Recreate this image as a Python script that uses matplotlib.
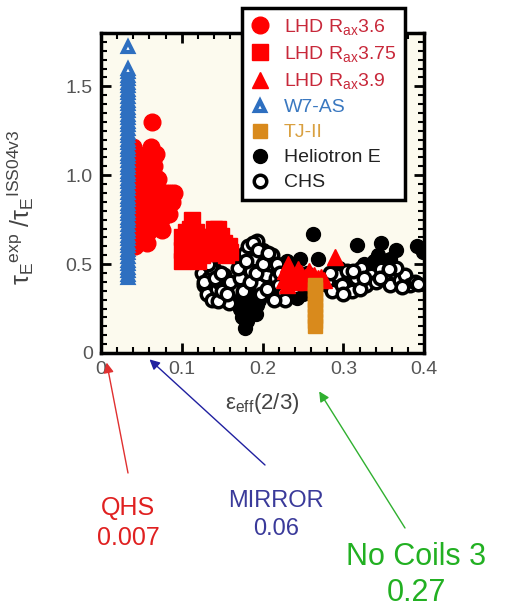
import matplotlib
matplotlib.use("Agg")
import matplotlib.pyplot as plt
from matplotlib.ticker import MultipleLocator

plt.rcParams['font.family'] = ['Liberation Sans', 'DejaVu Sans']
plt.rcParams['mathtext.fontset'] = 'custom'
plt.rcParams['mathtext.rm'] = 'Liberation Sans'
plt.rcParams['mathtext.it'] = 'Liberation Sans:italic'

# LHD, Rax = 3.6 m
lhd36_x = [0.040, 0.042, 0.044, 0.040, 0.046, 0.048, 0.043, 0.050, 0.052, 0.045,
           0.041, 0.047, 0.054, 0.056, 0.058, 0.060, 0.062, 0.063, 0.065, 0.066,
           0.068, 0.070, 0.064, 0.060, 0.055, 0.050, 0.045, 0.042, 0.040, 0.048,
           0.053, 0.057, 0.061, 0.067, 0.072, 0.075, 0.074, 0.078, 0.082, 0.086,
           0.090, 0.084, 0.063, 0.043, 0.065, 0.058, 0.052,
           0.038, 0.038, 0.039, 0.039, 0.040, 0.050, 0.052, 0.055, 0.057, 0.059,
           0.062, 0.064, 0.066, 0.069, 0.071, 0.044, 0.068, 0.073, 0.080, 0.088,
           0.047, 0.051, 0.055, 0.060]
lhd36_y = [1.16, 1.05, 0.98, 0.90, 0.95, 1.02, 0.82, 0.92, 0.88, 0.75,
           0.68, 0.70, 0.80, 0.98, 1.05, 1.10, 1.16, 1.30, 1.10, 1.00,
           0.95, 0.90, 0.85, 0.78, 0.72, 0.65, 0.62, 0.60, 0.78, 0.85,
           0.96, 0.90, 0.72, 0.82, 0.76, 0.69, 0.75, 0.82, 0.86, 0.90,
           0.90, 0.78, 0.95, 1.10, 1.05, 0.68, 1.00,
           0.65, 0.72, 0.85, 0.95, 1.05, 0.70, 0.78, 0.85, 0.62, 0.80,
           0.88, 0.75, 0.92, 0.82, 0.98, 1.12, 1.12, 0.88, 0.90, 0.85,
           0.88, 0.98, 1.05, 0.95]

# LHD, Rax = 3.75 m
lhd375_x = [0.100, 0.100, 0.105, 0.110, 0.110, 0.113, 0.118, 0.120, 0.125, 0.130,
            0.135, 0.140, 0.145, 0.145, 0.150, 0.155, 0.160, 0.120, 0.100, 0.140,
            0.105, 0.108, 0.115, 0.122, 0.128, 0.132, 0.138, 0.142, 0.148, 0.152,
            0.158, 0.115]
lhd375_y = [0.58, 0.65, 0.55, 0.62, 0.70, 0.75, 0.68, 0.58, 0.55, 0.60,
            0.65, 0.70, 0.70, 0.62, 0.58, 0.55, 0.57, 0.52, 0.52, 0.60,
            0.68, 0.58, 0.64, 0.65, 0.62, 0.56, 0.56, 0.66, 0.66, 0.62,
            0.60, 0.55]

# LHD, Rax = 3.9 m
lhd39_x = [0.226, 0.228, 0.232, 0.236, 0.240, 0.244, 0.248, 0.252, 0.258, 0.264,
           0.268, 0.272, 0.276, 0.290, 0.230, 0.255]
lhd39_y = [0.41, 0.46, 0.50, 0.44, 0.40, 0.47, 0.45, 0.43, 0.46, 0.44,
           0.42, 0.43, 0.41, 0.54, 0.38, 0.40]

# W7-AS
w7as_y = [0.42, 0.44, 0.46, 0.48, 0.50, 0.52, 0.54, 0.56, 0.58, 0.60,
          0.62, 0.64, 0.66, 0.68, 0.70, 0.72, 0.74, 0.76, 0.78, 0.80,
          0.82, 0.84, 0.86, 0.88, 0.90, 0.92, 0.94, 0.96, 0.98, 1.00,
          1.02, 1.04, 1.06, 1.08, 1.10, 1.12, 1.14, 1.16, 1.18, 1.20,
          1.22, 1.24, 1.26, 1.28, 1.30, 1.32, 1.34, 1.36, 1.38, 1.40,
          1.42, 1.44, 1.46, 1.48, 1.50, 1.52, 1.54, 1.56, 1.58, 1.60,
          1.72]
w7as_x = [0.033] * len(w7as_y)

# TJ-II
tj2_y = [0.15, 0.18, 0.21, 0.24, 0.27, 0.30, 0.33, 0.36, 0.38]
tj2_x = [0.265] * len(tj2_y)

# Heliotron E
hel_x = [0.130, 0.133, 0.136, 0.139, 0.141, 0.135, 0.132,
         0.172, 0.175, 0.178, 0.180, 0.183, 0.186, 0.188, 0.191, 0.194, 0.197,
         0.200, 0.176, 0.182, 0.190, 0.185, 0.179, 0.195, 0.203, 0.178,
         0.210, 0.215, 0.222, 0.230, 0.238, 0.246, 0.250, 0.255, 0.262, 0.269,
         0.280, 0.288, 0.295, 0.302, 0.310, 0.317, 0.325, 0.332, 0.338, 0.343,
         0.347, 0.352, 0.358, 0.365, 0.391, 0.398, 0.212, 0.243,
         0.174, 0.181, 0.187, 0.193, 0.184, 0.177, 0.189, 0.198, 0.170, 0.192,
         0.128, 0.138, 0.143, 0.335, 0.340, 0.330, 0.348, 0.292, 0.298, 0.234]
hel_y = [0.52, 0.46, 0.40, 0.36, 0.31, 0.55, 0.44,
         0.25, 0.20, 0.30, 0.35, 0.24, 0.28, 0.33, 0.40, 0.45, 0.52,
         0.58, 0.42, 0.50, 0.60, 0.38, 0.48, 0.30, 0.55, 0.14,
         0.47, 0.40, 0.36, 0.52, 0.48, 0.53, 0.33, 0.45, 0.67, 0.53,
         0.38, 0.42, 0.48, 0.45, 0.40, 0.61, 0.50, 0.46, 0.52, 0.55,
         0.62, 0.48, 0.53, 0.58, 0.60, 0.57, 0.33, 0.31,
         0.32, 0.18, 0.22, 0.27, 0.30, 0.38, 0.36, 0.34, 0.28, 0.22,
         0.50, 0.48, 0.42, 0.49, 0.51, 0.47, 0.50, 0.45, 0.42, 0.34]

# CHS
chs_x = [0.125, 0.128, 0.131, 0.134, 0.137, 0.140, 0.143, 0.146, 0.149, 0.152,
         0.155, 0.158, 0.127, 0.136, 0.145, 0.150, 0.160,
         0.172, 0.175, 0.178, 0.182, 0.186, 0.190, 0.193, 0.196, 0.200, 0.204,
         0.208, 0.176, 0.184, 0.192, 0.198, 0.205, 0.170, 0.188,
         0.212, 0.216, 0.220, 0.225, 0.230, 0.235, 0.240, 0.218, 0.228,
         0.280, 0.286, 0.292, 0.298, 0.304, 0.310, 0.316, 0.322, 0.328, 0.334,
         0.340, 0.346, 0.352, 0.358, 0.364, 0.370, 0.376, 0.382, 0.388, 0.300,
         0.320, 0.345, 0.365,
         0.132, 0.141, 0.148, 0.156, 0.180, 0.194, 0.201, 0.207, 0.222, 0.214,
         0.284, 0.312, 0.326, 0.356, 0.372, 0.392]
chs_y = [0.45, 0.38, 0.33, 0.42, 0.30, 0.47, 0.36, 0.40, 0.32, 0.44,
         0.37, 0.28, 0.40, 0.48, 0.29, 0.35, 0.40,
         0.42, 0.50, 0.56, 0.60, 0.46, 0.53, 0.63, 0.38, 0.57, 0.44,
         0.50, 0.35, 0.40, 0.45, 0.33, 0.36, 0.48, 0.62,
         0.55, 0.42, 0.38, 0.34, 0.46, 0.40, 0.37, 0.50, 0.30,
         0.40, 0.35, 0.44, 0.38, 0.46, 0.35, 0.42, 0.48, 0.38, 0.44,
         0.40, 0.47, 0.43, 0.38, 0.45, 0.41, 0.44, 0.38, 0.40, 0.33,
         0.36, 0.42, 0.48,
         0.50, 0.42, 0.45, 0.33, 0.52, 0.58, 0.50, 0.56, 0.45, 0.30,
         0.45, 0.46, 0.42, 0.47, 0.37, 0.39]

# configurations pointed at below the axis
config_names = ['QHS', 'MIRROR', 'No Coils 3']
config_eps = [0.007, 0.06, 0.27]

fig = plt.figure(figsize=(5.06, 6.11), dpi=100)
ax = fig.add_axes([0.1996, 0.4223, 0.6388, 0.5237])
ax.set_facecolor('#FCFAEE')

red = '#FF0000'
h1, = ax.plot(lhd36_x, lhd36_y, 'o', color=red, ms=12, mec=red, zorder=4,
              label=r'LHD R$_\mathregular{ax}$3.6')
h2, = ax.plot(lhd375_x, lhd375_y, 's', color=red, ms=12, mec=red, zorder=4,
              label=r'LHD R$_\mathregular{ax}$3.75')
h3, = ax.plot(lhd39_x, lhd39_y, '^', color=red, ms=12, mec=red, zorder=4,
              label=r'LHD R$_\mathregular{ax}$3.9')
h4, = ax.plot(w7as_x, w7as_y, '^', mfc='white', mec='#2E6FC0', ms=6.5, mew=3,
              zorder=5, label='W7-AS')
h5, = ax.plot(tj2_x, tj2_y, 's', color='#D98A1C', ms=10, zorder=4, label='TJ-II')
h6, = ax.plot(hel_x, hel_y, 'o', color='black', ms=10, zorder=3, label='Heliotron E')
h7, = ax.plot(chs_x, chs_y, 'o', mfc='white', mec='black', ms=9, mew=2.5,
              zorder=3, label='CHS')

ax.set_xlim(0, 0.4)
ax.set_ylim(0, 1.8)
ax.set_xticks([0, 0.1, 0.2, 0.3, 0.4])
ax.set_xticklabels(['0', '0.1', '0.2', '0.3', '0.4'])
ax.set_yticks([0, 0.5, 1.0, 1.5])
ax.set_yticklabels(['0', '0.5', '1.0', '1.5'])
ax.xaxis.set_minor_locator(MultipleLocator(0.02))
ax.yaxis.set_minor_locator(MultipleLocator(0.05))
ax.tick_params(which='both', direction='in', top=True, right=True,
               colors='black', labelcolor='#555555', labelsize=14)
ax.tick_params(which='major', length=7, width=2, pad=6)
ax.tick_params(which='minor', length=4, width=1.5)
for sp in ax.spines.values():
    sp.set_linewidth(2.5)

ax.set_xlabel('ε$_\\mathregular{eff}$(2/3)', fontsize=16, color='#444444')
ax.xaxis.set_label_coords(0.5, -0.12)
ax.set_ylabel('τ$_\\mathregular{E}$$^\\mathregular{exp}$ /τ$_\\mathregular{E}$$^\\mathregular{ISS04v3}$',
              fontsize=18, color='#444444')
ax.yaxis.set_label_coords(-0.2, 0.455)

leg = ax.legend(handles=[h1, h2, h3, h4, h5, h6, h7], loc='upper left',
                bbox_to_anchor=(0.478, 0.987), bbox_transform=fig.transFigure,
                fontsize=14, fancybox=False, framealpha=1, edgecolor='black',
                handlelength=1.0, handletextpad=0.7, labelspacing=0.38,
                borderpad=0.45, borderaxespad=0)
leg.get_frame().set_linewidth(2.5)
leg_colors = ['#C8283A', '#C8283A', '#C8283A', '#3A78C0', '#D9A040', '#222222', '#222222']
for t, c in zip(leg.get_texts(), leg_colors):
    t.set_color(c)

# arrows from the configuration labels up to their epsilon_eff values
label_colors = ['#E02020', '#3A3A9A', '#22B022']
arrow_colors = ['#E03030', '#2020A0', '#30B030']
tip_y = [-0.03, -0.02, -0.12]
text_pos = [(128, 523), (276, 515), (416, 575)]
tail_pos = [(128, 473), (265, 465), (405, 528)]
sizes = [18, 17, 22]
for name, eps, tc, ac, ty, tp, tl, fs in zip(config_names, config_eps, label_colors,
                                              arrow_colors, tip_y, text_pos, tail_pos, sizes):
    fig.text(tp[0] / 506, 1 - tp[1] / 611, f'{name}\n{eps:g}', color=tc, fontsize=fs,
             ha='center', va='center', linespacing=1.3)
    ax.annotate('', xy=(eps, ty), xycoords=('data', 'axes fraction'),
                xytext=(tl[0] / 506, 1 - tl[1] / 611), textcoords='figure fraction',
                arrowprops=dict(arrowstyle='-|>', color=ac, lw=1,
                                mutation_scale=15, shrinkA=0, shrinkB=0),
                annotation_clip=False)

fig.savefig('out.png', dpi=100)
